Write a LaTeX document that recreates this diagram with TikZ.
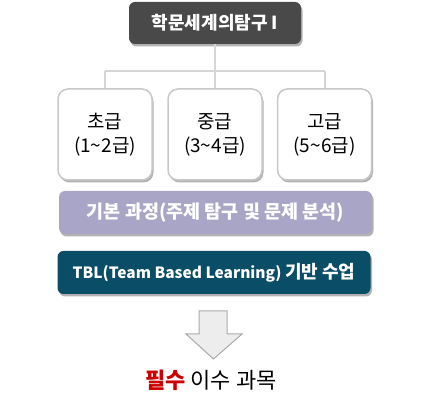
\documentclass[tikz,border=0pt]{standalone}
\usepackage{fontspec}
\setmainfont{Noto Sans CJK KR}
\usepackage{xcolor}
\usetikzlibrary{shadows}
\definecolor{titlegray}{RGB}{73, 73, 73}
\definecolor{linegray}{RGB}{214, 214, 214}
\definecolor{boxborder}{RGB}{200, 200, 200}
\definecolor{lavender}{RGB}{169, 165, 198}
\definecolor{tblblue}{RGB}{10, 77, 102}
\definecolor{arrowgray}{RGB}{170, 170, 170}
\definecolor{mustred}{RGB}{204, 0, 0}

\begin{document}
\begin{tikzpicture}[x=1pt, y=-1pt,
    shadowed/.style={drop shadow={shadow xshift=1.5pt, shadow yshift=-2.5pt, opacity=0.3, fill=black}},
    bar/.style={shadowed, rounded corners=6pt, inner sep=0pt, outer sep=0pt,
      minimum width=313pt, minimum height=43pt, text=white}]
    \useasboundingbox (0,0) rectangle (424,406);

    % Title box on top
    \node[shadowed, fill=titlegray, rounded corners=6pt, minimum width=172pt, minimum height=42pt,
          inner sep=0pt, text=white, font=\bfseries\fontsize{18}{20}\selectfont]
          (title) at (215, 23) {학문세계의탐구 I};

    % Level boxes
    \foreach \lvl/\rng/\x [count=\n] in {초급/1\textasciitilde 2급/105, 중급/3\textasciitilde 4급/215, 고급/5\textasciitilde 6급/324.5} {
      \node[shadowed, fill=white, draw=boxborder, line width=1.5pt, rounded corners=10pt,
            minimum width=94pt, minimum height=91pt, inner sep=0pt, align=center,
            font=\fontsize{19}{24}\selectfont]
            (level\n) at (\x, 134.5) {\lvl\\(\rng)};
    }

    % Tree connector
    \coordinate (bus) at (215, 71);
    \draw[linegray, line width=2pt] (title.south) -- (bus);
    \draw[linegray, line width=2pt] (level1.north |- bus) -- (level3.north |- bus);
    \foreach \n in {1,2,3} {
      \draw[linegray, line width=2pt] (level\n.north |- bus) -- (level\n.north);
    }

    % Course bars
    \node[bar, fill=lavender, font=\bfseries\fontsize{18.5}{21}\selectfont]
      (basic) at (215.5, 212.5) {기본 과정(주제 탐구 및 문제 분석)};
    \node[bar, fill=tblblue, font=\bfseries\fontsize{15.5}{19}\selectfont]
      (tbl) at (214, 272.5) {TBL(Team Based Learning) {\fontsize{18}{19}\selectfont 기반 수업}};

    % Down arrow
    \filldraw[fill=black!7, draw=arrowgray, line width=1pt]
      (199,311) -- (227,311) -- (227,334) -- (242,334) -- (213.5,359)
      -- (186,334) -- (199,334) -- cycle;

    % Label under arrow
    \node[font=\fontsize{22}{24}\selectfont] (must) at (211, 380)
      {\textcolor{mustred}{\bfseries 필수} 이수 과목};
\end{tikzpicture}
\end{document}
